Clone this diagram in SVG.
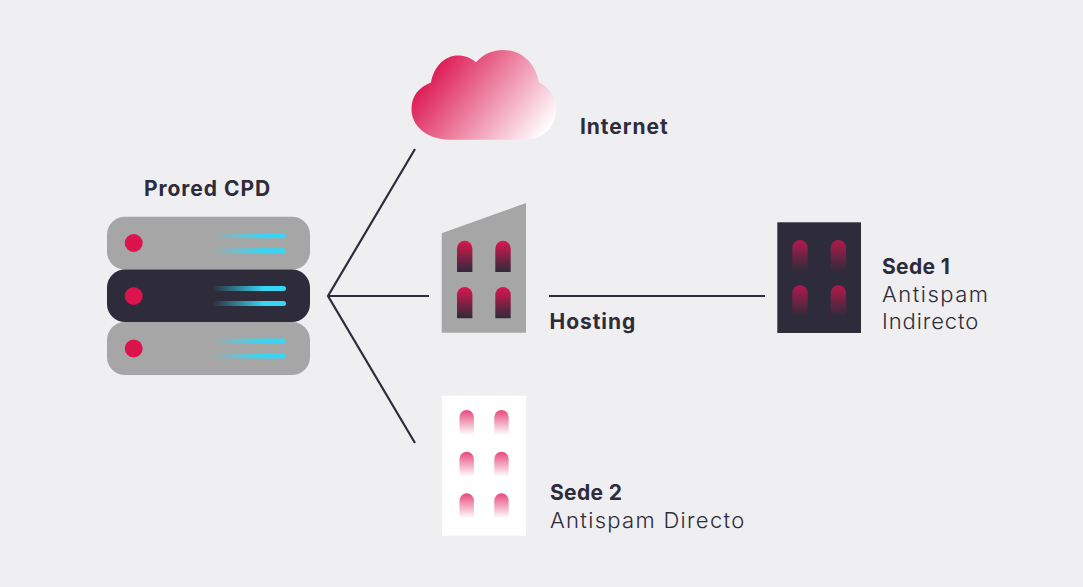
<svg xmlns="http://www.w3.org/2000/svg" width="1083" height="587" viewBox="0 0 1083 587">
<style>
text{font-family:"Inter","Liberation Sans",sans-serif;fill:#2e2b3a}
.b{font-weight:700;font-size:21px;letter-spacing:.95px}
.s{letter-spacing:.35px}
.r{font-weight:300;font-size:22px}
.lt{fill:#a6a6a6}
.dk{fill:#2e2b3a}
.dot{fill:#dc144e}
.c{fill:none;stroke:#2e2b3a;stroke-width:2.2}
</style>
<defs>
<linearGradient id="cloudG" gradientUnits="userSpaceOnUse" x1="435" y1="62" x2="538" y2="142"><stop offset="0" stop-color="#dc1650"/><stop offset="1" stop-color="#ffffff"/></linearGradient>
<linearGradient id="barL" x1="0" y1="0" x2="1" y2="0"><stop offset="0" stop-color="#38d6f5" stop-opacity="0"/><stop offset=".7" stop-color="#38d6f5"/><stop offset="1" stop-color="#38d6f5"/></linearGradient>
<linearGradient id="winH" x1="0" y1="0" x2="0" y2="1"><stop offset="0" stop-color="#dc1650"/><stop offset="1" stop-color="#2e2b3a"/></linearGradient>
<linearGradient id="winD" x1="0" y1="0" x2="0" y2="1"><stop offset="0" stop-color="#b3194c"/><stop offset="1" stop-color="#2e2b3a"/></linearGradient>
<linearGradient id="winW" x1="0" y1="0" x2="0" y2="1"><stop offset="0" stop-color="#e6497a"/><stop offset="1" stop-color="#ffffff"/></linearGradient>
<path id="w" d="M0 7.7a7.7 7.7 0 0 1 15.4 0V31.3H0Z"/>
<path id="w2" d="M0 7.2a7.2 7.2 0 0 1 14.4 0V25H0Z"/>
</defs>
<rect width="1083" height="587" fill="#efeff1"/>
<g id="connectors">
<path class="c" d="M415 149 328 296 415 443M328 296H429M549 296H765"/>
</g>
<g id="prored-cpd">
<rect class="lt" x="107" y="216.7" width="203" height="53" rx="18"/>
<rect class="lt" x="107" y="322" width="203" height="53" rx="18"/>
<rect class="dk" x="107" y="269.5" width="203" height="52.5" rx="18"/>
<circle class="dot" cx="133.7" cy="243" r="9"/><circle class="dot" cx="133.7" cy="296" r="9"/><circle class="dot" cx="133.7" cy="348.5" r="9"/>
<g fill="url(#barL)">
<rect x="212" y="233.2" width="74" height="5" rx="2.5"/><rect x="212" y="248.2" width="74" height="5" rx="2.5"/>
<rect x="212" y="286" width="74" height="5" rx="2.5"/><rect x="212" y="301" width="74" height="5" rx="2.5"/>
<rect x="212" y="338.5" width="74" height="5" rx="2.5"/><rect x="212" y="353.5" width="74" height="5" rx="2.5"/>
</g>
<text class="b" x="144" y="196">Prored CPD</text>
</g>
<g id="internet">
<path fill="url(#cloudG)" d="M450 139.7C427 139.7 411.5 126 411.5 109C411.5 96 419 87 431 82.5C434 66 445 55.5 458 55.5C465 55.5 471 58 476 62.3C483 54 493 50 503 50C522 50 536 64 539 82.5C549 87 556 97 556 109C556 127 543 139.7 525 139.7Z"/>
<text class="b" x="580" y="134">Internet</text>
</g>
<g id="hosting">
<polygon class="lt" points="441.7,233.3 526,203 526,332.7 441.7,332.7"/>
<g fill="url(#winH)">
<use href="#w" x="457" y="240.7"/><use href="#w" x="495.3" y="240.7"/><use href="#w" x="457" y="287"/><use href="#w" x="495.3" y="287"/>
</g>
<text class="b" x="549.5" y="329">Hosting</text>
</g>
<g id="sede-1">
<rect class="dk" x="777.3" y="222.3" width="83.7" height="110.7"/>
<g fill="url(#winD)">
<use href="#w" x="792.3" y="240"/><use href="#w" x="830.7" y="240"/><use href="#w" x="792.3" y="285.3"/><use href="#w" x="830.7" y="285.3"/>
</g>
<text class="b s" x="882" y="274">Sede 1</text>
<text class="r" x="882" y="302" letter-spacing="1.5">Antispam</text>
<text class="r" x="882" y="329" letter-spacing=".9">Indirecto</text>
</g>
<g id="sede-2">
<rect fill="#ffffff" x="442" y="395.7" width="84" height="140"/>
<g fill="url(#winW)">
<use href="#w2" x="459.5" y="410"/><use href="#w2" x="494.3" y="410"/><use href="#w2" x="459.5" y="451.7"/><use href="#w2" x="494.3" y="451.7"/><use href="#w2" x="459.5" y="493.3"/><use href="#w2" x="494.3" y="493.3"/>
</g>
<text class="b s" x="550" y="500">Sede 2</text>
<text class="r" x="550" y="528" letter-spacing="1.3">Antispam Directo</text>
</g>
</svg>
